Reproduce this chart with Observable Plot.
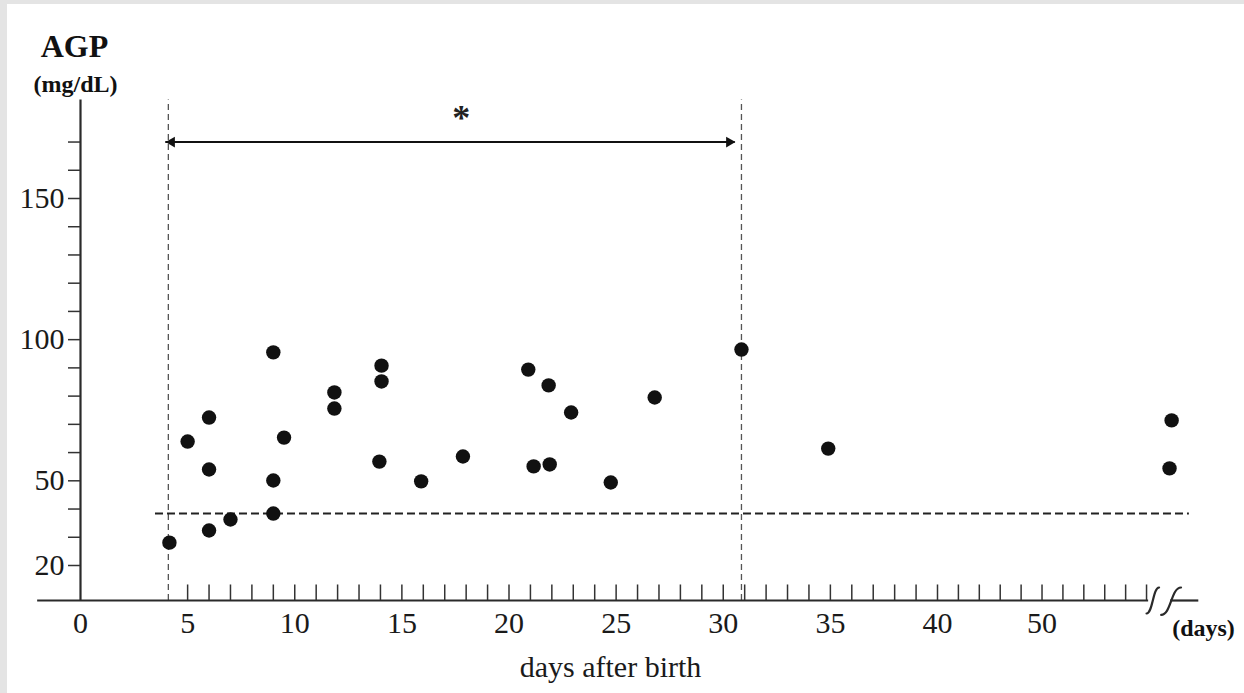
<!DOCTYPE html>
<html>
<head>
<meta charset="utf-8">
<script src="https://cdn.jsdelivr.net/npm/d3@7"></script>
<script src="https://cdn.jsdelivr.net/npm/@observablehq/plot@0.6"></script>
<style>
html, body { margin: 0; padding: 0; background: #e4e4e4; overflow: hidden; width: 1244px; height: 693px; }
#panel { position: absolute; left: 7px; top: 4px; width: 1237px; height: 689px; background: #ffffff; }
#chart { position: absolute; left: 0; top: 0; }
</style>
</head>
<body>
<div id="panel"></div>
<div id="chart"></div>
<script>
// ---- data ----
const days = [4.15, 5, 6, 6, 6, 7, 9, 9.5, 9, 9, 11.85, 11.85, 14.05, 14.05, 13.95, 15.9, 17.85,
              20.9, 21.85, 22.9, 21.15, 21.9, 24.75, 26.8, 30.85, 34.9, 62.4, 62.2];
const agp  = [28.1, 63.9, 72.4, 54.0, 32.4, 36.3, 95.5, 65.3, 50.1, 38.4, 81.3, 75.6, 90.8, 85.2, 56.8, 49.8, 58.6,
              89.4, 83.8, 74.2, 55.1, 55.8, 49.4, 79.5, 96.5, 61.4, 71.4, 54.4];
const xTickLabels = [0, 5, 10, 15, 20, 25, 30, 35, 40, 50];
const xMinorTicks = [5,6,7,8,9,10,11,12,13,14,15,16,17,18,19,20,21,22,23,24,25,26,27,28,29,30,
                     31,32,33,34,35,36,37,38,39,40,42,44,46,48,50,52,54,56,58,60];
const yTicks = [20,30,40,50,60,70,80,90,100,110,120,130,140,150,160,170];
const yTickLabels = [20, 50, 100, 150];
const cutoffAGP = 38.4;            // horizontal dashed reference line
const periodDays = [4.1, 30.85];   // vertical dashed lines
const arrowDays = [3.98, 30.56];   // double arrow span
const arrowAGP = 170;
const breakStrokes = [
  {k: 0, day: 60.0, v: 3.0}, {k: 0, day: 61.2, v: 12.2},
  {k: 1, day: 61.4, v: 2.5}, {k: 1, day: 63.3, v: 12.2}
];

// ---- axis frame constants (data units) ----
const xStart = -2, xBreakL = 60.2, xBreakR = 62.3, xEnd = 65;
const yFloor = 7.6, yTop = 184.9, tickTop = 13.1;
const refStart = 3.5, refEnd = 64.1;

const points = days.map((d, i) => ({day: d, agp: agp[i]}));
const serif = "'Liberation Serif', 'Times New Roman', serif";

const chart = Plot.plot({
  width: 1244,
  height: 693,
  marginLeft: 80,
  marginBottom: 93,
  marginTop: 0,
  marginRight: 0,
  style: {background: "transparent", fontFamily: serif, color: "#1a1a1a", overflow: "visible"},
  x: {type: "linear", domain: [xStart, 40, xEnd], range: [37.15, 937, 1198.3]},
  y: {type: "linear", domain: [20, 150], range: [565, 198]},
  marks: [
    // vertical dashed period lines
    Plot.ruleX(periodDays, {y1: yFloor, y2: yTop, stroke: "#555", strokeWidth: 1.3, strokeDasharray: "6,4"}),
    // horizontal dashed reference line
    Plot.ruleY([cutoffAGP], {x1: refStart, x2: refEnd, stroke: "#222", strokeWidth: 2, strokeDasharray: "8,4"}),
    // y axis line
    Plot.ruleX([0], {y1: yFloor, y2: yTop, stroke: "#2a2a2a", strokeWidth: 2.2}),
    // x axis line with break
    Plot.ruleY([yFloor], {x1: xStart, x2: xBreakL, stroke: "#2a2a2a", strokeWidth: 2.2}),
    Plot.ruleY([yFloor], {x1: xBreakR, x2: xEnd, stroke: "#2a2a2a", strokeWidth: 2.2}),
    Plot.line(breakStrokes, {x: "day", y: "v", z: "k", curve: "bump-x", stroke: "#2a2a2a", strokeWidth: 2.2}),
    // x minor ticks (pointing up)
    Plot.ruleX(xMinorTicks, {y1: yFloor, y2: tickTop, stroke: "#333", strokeWidth: 1.5}),
    Plot.axisX({ticks: xTickLabels, tickSize: 0, tickPadding: 11, fontSize: 30, label: null, fill: "#1a1a1a"}),
    Plot.axisY({ticks: yTicks, tickSize: 12, tickPadding: 4, fontSize: 30, label: null,
                stroke: "#333", strokeWidth: 1.5, fill: "#1a1a1a",
                tickFormat: d => yTickLabels.includes(d) ? String(d) : ""}),
    // double arrow
    Plot.ruleY([arrowAGP], {x1: arrowDays[0], x2: arrowDays[1], stroke: "#111", strokeWidth: 2}),
    Plot.dot([arrowDays[0]], {x: d => d, y: arrowAGP, symbol: "triangle", rotate: -90, r: 4, fill: "#111", dx: 6}),
    Plot.dot([arrowDays[1]], {x: d => d, y: arrowAGP, symbol: "triangle", rotate: 90, r: 4, fill: "#111", dx: -6}),
    Plot.text(["*"], {x: (arrowDays[0] + arrowDays[1]) / 2 + 0.5, y: 178.5, fontSize: 36, fontWeight: "bold", fontFamily: serif, fill: "#222"}),
    // data points
    Plot.dot(points, {x: "day", y: "agp", r: 7.2, fill: "#111"}),
    // titles
    Plot.text(["AGP"], {frameAnchor: "top-left", lineAnchor: "middle", dx: -6, dy: 46, fontSize: 32, fontWeight: "bold", fontFamily: serif, textAnchor: "middle", fill: "#111"}),
    Plot.text(["(mg/dL)"], {frameAnchor: "top-left", lineAnchor: "middle", dx: -5, dy: 84, fontSize: 24, fontWeight: "bold", fontFamily: serif, textAnchor: "middle", fill: "#111"}),
    Plot.text(["(days)"], {frameAnchor: "top-left", lineAnchor: "middle", dx: 1123, dy: 628, fontSize: 24, fontWeight: "bold", fontFamily: serif, textAnchor: "middle", fill: "#111"}),
    Plot.text(["days after birth"], {frameAnchor: "top-left", lineAnchor: "middle", dx: 530, dy: 667, fontSize: 30, fontFamily: serif, textAnchor: "middle", fill: "#1a1a1a"})
  ]
});
document.getElementById("chart").appendChild(chart);
</script>
</body>
</html>
